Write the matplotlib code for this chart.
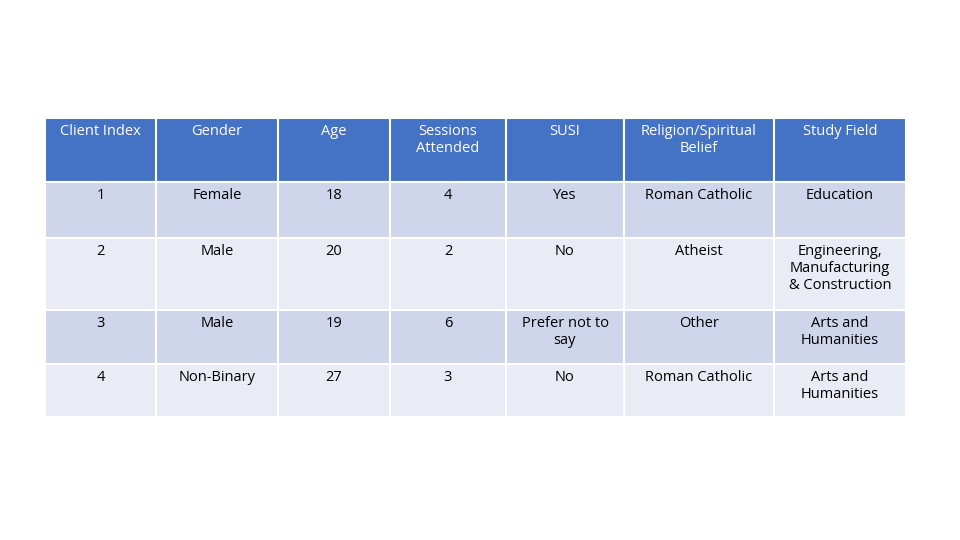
import matplotlib
matplotlib.use("Agg")
import matplotlib.pyplot as plt
from matplotlib.patches import Rectangle

headers = ["Client Index", "Gender", "Age", "Sessions\nAttended", "SUSI", "Religion/Spiritual\nBelief", "Study Field"]
client_index = ["1", "2", "3", "4"]
gender = ["Female", "Male", "Male", "Non-Binary"]
age = ["18", "20", "19", "27"]
sessions = ["4", "2", "6", "3"]
susi = ["Yes", "No", "Prefer not to\nsay", "No"]
religion = ["Roman Catholic", "Atheist", "Other", "Roman Catholic"]
study = ["Education", "Engineering,\nManufacturing\n& Construction", "Arts and\nHumanities", "Arts and\nHumanities"]

col_edges = [45, 156, 278, 390, 506, 624, 774, 906]
row_edges = [118, 182, 238, 310, 364, 417]

fig = plt.figure(figsize=(9.6, 5.4), dpi=100)
ax = fig.add_axes([0, 0, 1, 1])
ax.set_xlim(0, 960); ax.set_ylim(540, 0); ax.axis("off")

rows = [headers] + [list(r) for r in zip(client_index, gender, age, sessions, susi, religion, study)]
fills = ["#4472C4", "#CFD5EA", "#E9EBF5", "#CFD5EA", "#E9EBF5"]
for ri, row in enumerate(rows):
    y0, y1 = row_edges[ri], row_edges[ri + 1]
    for ci, txt in enumerate(row):
        x0, x1 = col_edges[ci], col_edges[ci + 1]
        ax.add_patch(Rectangle((x0, y0), x1 - x0, y1 - y0, facecolor=fills[ri],
                               edgecolor="white", linewidth=1.5))
        ax.text((x0 + x1) / 2, y0 + 6, txt, ha="center", va="top",
                fontsize=10.5, family="Open Sans", linespacing=1.2,
                color="white" if ri == 0 else "black")

fig.savefig("out.png", dpi=100)
